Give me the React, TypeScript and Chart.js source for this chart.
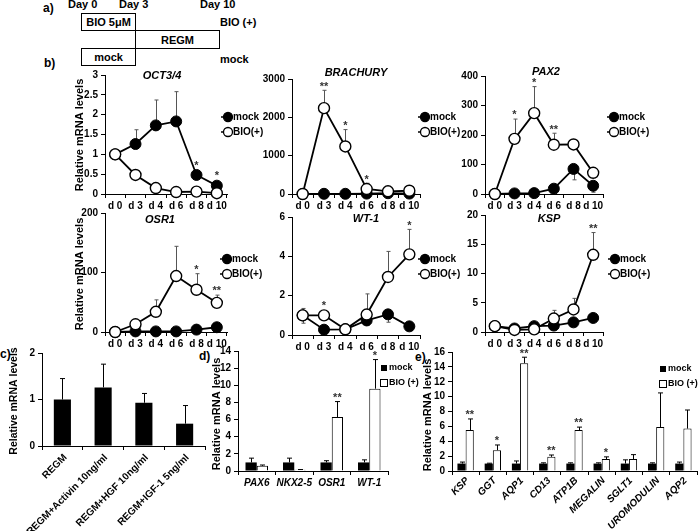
import React, { useEffect, useRef } from 'react';
import { Chart, registerables } from 'chart.js';

Chart.register(...registerables);

const FONT = '"Liberation Sans", Arial, Helvetica, sans-serif';
const PAGE_W = 700;
const PAGE_H = 531;

// ---------------- data ----------------
const days = ['d 0', 'd 3', 'd 4', 'd 6', 'd 8', 'd 10'];

const oct34Mock = [1.0, 1.26, 1.73, 1.83, 0.48, 0.21];
const oct34MockErr = [0, 0.36, 0.64, 0.75, 0.08, 0.06];
const oct34Bio = [1.0, 0.48, 0.15, 0.05, 0.06, 0.02];
const oct34BioErr = [0, 0.03, 0.02, 0.01, 0.01, 0.01];
const oct34MockStars = ['', '', '', '', '*', '*'];

const brachMock = [0, 5, 5, 10, 20, 10];
const brachMockErr = [0, 0, 0, 0, 0, 0];
const brachBio = [0, 2240, 1240, 130, 70, 85];
const brachBioErr = [0, 465, 440, 150, 30, 30];
const brachBioStars = ['', '**', '*', '*', '', ''];

const pax2Mock = [0, 2, 3, 18, 85, 28];
const pax2MockErr = [0, 0, 0, 0, -37, -22];
const pax2Bio = [0, 187, 274, 167, 168, 72];
const pax2BioErr = [0, 67, 90, 39, 14, 5];
const pax2BioStars = ['', '*', '*', '**', '', ''];

const osr1Mock = [0, 1, 1, 1, 4, 8];
const osr1MockErr = [0, 0, 0, 0, 0, 0];
const osr1Bio = [0, 13, 34, 94, 71, 49];
const osr1BioErr = [0, 2, 20, 50, 27, 13];
const osr1BioStars = ['', '', '', '', '*', '**'];

const wt1Mock = [1.0, 0.27, 0.29, 0.74, 1.05, 0.44];
const wt1MockErr = [-0.4, 0, 0, -0.25, -0.4, 0];
const wt1Bio = [1.0, 1.0, 0.29, 1.04, 2.95, 4.1];
const wt1BioErr = [0.35, 0.22, 0, 1.05, 1.3, 1.27];
const wt1BioStars = ['', '*', '', '', '', '*'];

const kspMock = [1.0, 0.6, 1.0, 1.1, 1.65, 2.4];
const kspMockErr = [0, 0, 0, 0, 0, 0];
const kspBio = [1.0, 0.35, 0.45, 2.3, 3.85, 13.2];
const kspBioErr = [0, 0, 0, 1.4, 1.9, 3.8];
const kspBioStars = ['', '', '', '', '', '**'];

const cCats = ['REGM', 'REGM+Activin 10ng/ml', 'REGM+HGF 10ng/ml', 'REGM+IGF-1 5ng/ml'];
const cVals = [1.0, 1.26, 0.93, 0.48];
const cErr = [0.45, 0.5, 0.2, 0.39];

const dCats = ['PAX6', 'NKX2-5', 'OSR1', 'WT-1'];
const dMock = [1, 1, 1, 1];
const dMockErr = [0.5, 0.5, 0.2, 0.3];
const dBio = [0.6, 0.15, 6.3, 9.6];
const dBioErr = [0.1, 0.02, 1.8, 3.4];
const dStars = ['', '', '**', '*'];

const eCats = ['KSP', 'GGT', 'AQP1', 'CD13', 'ATP1B', 'MEGALIN', 'SGLT1', 'UROMODULIN', 'AQP2'];
const eMock = [1, 1, 1, 1, 1, 1, 1, 1, 1];
const eMockErr = [0.2, 0.05, 0.35, 0.1, 0.1, 0.1, 0.5, 0.1, 0.2];
const eBio = [5.5, 2.8, 14.5, 1.9, 5.5, 1.6, 1.6, 5.9, 5.7];
const eBioErr = [1.5, 0.7, 0.8, 0.25, 0.4, 0.3, 0.6, 4.6, 2.5];
const eStars = ['**', '*', '**', '**', '**', '*', '', '', ''];

// ---------------- helpers ----------------
type Box = { l: number; t: number; r: number; b: number };

type Decor = {
  kind: 'line' | 'bar';
  title?: string;
  titleX?: number;
  titleY?: number;
  yTitle?: { x: number; y: number; size: number };
  legend: { x: number; y: number };
  rotLabels?: { italic: boolean; dx: number; dy: number };
};

const POINT_R = 5.5;

function drawErrorBars(chart: any, color: string, cap: number) {
  const ys = chart.scales.y;
  const ctx = chart.ctx;
  chart.data.datasets.forEach((ds: any, i: number) => {
    const errs: number[] | undefined = ds.errs;
    if (!errs) return;
    const meta = chart.getDatasetMeta(i);
    meta.data.forEach((el: any, j: number) => {
      const e = errs[j];
      if (!e) return;
      const v = ds.data[j];
      const y0 = ys.getPixelForValue(v);
      const y1 = ys.getPixelForValue(v + e);
      const x = Math.round(el.x) + 0.5;
      ctx.save();
      ctx.strokeStyle = color;
      ctx.lineWidth = 1;
      ctx.beginPath();
      ctx.moveTo(x, y0);
      ctx.lineTo(x, y1);
      ctx.moveTo(x - cap, y1);
      ctx.lineTo(x + cap, y1);
      ctx.stroke();
      ctx.restore();
    });
  });
}

function drawStars(chart: any, pointR: number) {
  const ys = chart.scales.y;
  const ctx = chart.ctx;
  chart.data.datasets.forEach((ds: any, i: number) => {
    const stars: string[] | undefined = ds.stars;
    if (!stars) return;
    const meta = chart.getDatasetMeta(i);
    meta.data.forEach((el: any, j: number) => {
      const s = stars[j];
      if (!s) return;
      const v = ds.data[j];
      const e = ds.errs ? ds.errs[j] : 0;
      let top = ys.getPixelForValue(v) - pointR;
      if (e > 0) top = Math.min(top, ys.getPixelForValue(v + e));
      const cy = top - 7;
      ctx.save();
      ctx.font = `bold 11px ${FONT}`;
      ctx.textAlign = 'center';
      ctx.textBaseline = 'alphabetic';
      ctx.fillStyle = '#333';
      ctx.fillText(s, el.x, cy + 6.3);
      ctx.restore();
    });
  });
}

function drawLegend(ctx: CanvasRenderingContext2D, kind: 'line' | 'bar', x: number, y: number, labels: string[]) {
  ctx.save();
  ctx.font = kind === 'line' ? `bold 10px ${FONT}` : `bold 9px ${FONT}`;
  ctx.textAlign = 'left';
  ctx.textBaseline = 'middle';
  labels.forEach((lab, k) => {
    const yy = y + k * 15;
    const filled = k === 0;
    if (kind === 'line') {
      ctx.strokeStyle = '#000';
      ctx.lineWidth = 1.5;
      ctx.beginPath();
      ctx.moveTo(x - 7, yy);
      ctx.lineTo(x, yy);
      ctx.stroke();
      ctx.beginPath();
      ctx.arc(x, yy, 4.5, 0, Math.PI * 2);
      ctx.fillStyle = filled ? '#000' : '#fff';
      ctx.fill();
      ctx.lineWidth = 1.3;
      ctx.stroke();
      ctx.fillStyle = '#000';
      ctx.fillText(lab, x + 5, yy);
    } else {
      ctx.strokeStyle = '#000';
      ctx.lineWidth = 1;
      if (filled) {
        ctx.fillStyle = '#000';
        ctx.fillRect(x - 3, yy - 3, 6, 6);
      } else {
        ctx.strokeRect(x - 3.5, yy - 3.5, 7, 7);
      }
      ctx.fillStyle = '#000';
      ctx.fillText(lab, x + 5, yy);
    }
  });
  ctx.restore();
}

function decorPlugin(d: Decor, legendLabels: string[]) {
  return {
    id: 'decor',
    beforeDatasetsDraw(chart: any) {
      if (d.kind === 'line') drawErrorBars(chart, '#555', 2);
    },
    afterDatasetsDraw(chart: any) {
      if (d.kind === 'bar') drawErrorBars(chart, '#000', 2.5);
      drawStars(chart, d.kind === 'line' ? POINT_R : 0);
      const ctx: CanvasRenderingContext2D = chart.ctx;
      ctx.save();
      ctx.fillStyle = '#000';
      if (d.title) {
        ctx.font = `italic bold 11px ${FONT}`;
        ctx.textAlign = 'center';
        ctx.textBaseline = 'middle';
        ctx.fillText(d.title, d.titleX!, d.titleY!);
      }
      if (d.yTitle) {
        ctx.save();
        ctx.translate(d.yTitle.x, d.yTitle.y);
        ctx.rotate(-Math.PI / 2);
        ctx.font = `bold ${d.yTitle.size}px ${FONT}`;
        ctx.textAlign = 'center';
        ctx.textBaseline = 'middle';
        ctx.fillText('Relative mRNA levels', 0, 0);
        ctx.restore();
      }
      if (d.rotLabels) {
        const xs = chart.scales.x;
        const labels: string[] = chart.data.labels;
        ctx.font = `${d.rotLabels.italic ? 'italic ' : ''}bold 10px ${FONT}`;
        ctx.textAlign = 'right';
        ctx.textBaseline = 'middle';
        labels.forEach((lab, i) => {
          const px = xs.getPixelForValue(i);
          ctx.save();
          ctx.translate(px + d.rotLabels!.dx, xs.top + d.rotLabels!.dy);
          ctx.rotate(-Math.PI / 4);
          ctx.fillText(lab, 0, 0);
          ctx.restore();
        });
      }
      ctx.restore();
      drawLegend(ctx, d.kind, d.legend.x, d.legend.y, legendLabels);
    },
  };
}

function axisCommon(fontStyle: 'normal' | 'italic') {
  return {
    grid: { drawOnChartArea: false, drawTicks: true, tickLength: 4, color: '#000', lineWidth: 1, offset: true },
    border: { color: '#000', width: 1 },
    ticks: {
      color: '#000',
      font: { family: FONT, size: 10, weight: 'bold' as const, style: fontStyle },
      autoSkip: false,
    },
  };
}

type LinePanel = {
  box: Box;
  max: number;
  step: number;
  mock: number[];
  mockErr: number[];
  bio: number[];
  bioErr: number[];
  mockStars?: string[];
  bioStars?: string[];
  decor: Decor;
};

function lineConfig(p: LinePanel): any {
  const YW = 30;
  const XH = 30;
  const xc = axisCommon('normal');
  return {
    type: 'line',
    data: {
      labels: days,
      datasets: [
        {
          label: 'BIO(+)',
          data: p.bio,
          errs: p.bioErr,
          stars: p.bioStars,
          order: 1,
          borderColor: '#000',
          borderWidth: 1.8,
          pointRadius: POINT_R,
          pointBackgroundColor: '#fff',
          pointBorderColor: '#000',
          pointBorderWidth: 1.4,
          tension: 0,
          clip: false,
        },
        {
          label: 'mock',
          data: p.mock,
          errs: p.mockErr,
          stars: p.mockStars,
          order: 2,
          borderColor: '#000',
          borderWidth: 1.8,
          pointRadius: POINT_R,
          pointBackgroundColor: '#000',
          pointBorderColor: '#000',
          pointBorderWidth: 1,
          tension: 0,
          clip: false,
        },
      ],
    },
    options: {
      responsive: false,
      animation: false,
      devicePixelRatio: 1,
      events: [],
      layout: { padding: { left: p.box.l - YW, top: p.box.t, right: PAGE_W - p.box.r, bottom: PAGE_H - p.box.b - XH } },
      plugins: { legend: { display: false }, tooltip: { enabled: false }, title: { display: false } },
      scales: {
        x: {
          type: 'category',
          offset: true,
          grid: xc.grid,
          border: xc.border,
          ticks: { ...xc.ticks, padding: 2, maxRotation: 0, minRotation: 0 },
          afterFit: (s: any) => { s.height = XH; },
        },
        y: {
          min: 0,
          max: p.max,
          grid: { ...xc.grid, offset: false },
          border: xc.border,
          ticks: { ...xc.ticks, stepSize: p.step, padding: 3, callback: (v: any) => String(v) },
          afterFit: (s: any) => { s.width = YW; },
        },
      },
    },
    plugins: [decorPlugin(p.decor, ['mock', 'BIO(+)'])],
  };
}

type BarPanel = {
  box: Box;
  xh: number;
  max: number;
  step: number;
  labels: string[];
  rotate: boolean;
  italic: boolean;
  datasets: any[];
  decor: Decor;
  legendLabels: string[];
};

function barConfig(p: BarPanel): any {
  const YW = 30;
  const xc = axisCommon(p.italic ? 'italic' : 'normal');
  return {
    type: 'bar',
    data: { labels: p.labels, datasets: p.datasets },
    options: {
      responsive: false,
      animation: false,
      devicePixelRatio: 1,
      events: [],
      layout: { padding: { left: p.box.l - YW, top: p.box.t, right: PAGE_W - p.box.r, bottom: PAGE_H - p.box.b - p.xh } },
      plugins: { legend: { display: false }, tooltip: { enabled: false }, title: { display: false } },
      scales: {
        x: {
          type: 'category',
          offset: true,
          grid: xc.grid,
          border: xc.border,
          ticks: {
            ...xc.ticks,
            color: p.rotate ? 'rgba(0,0,0,0)' : '#000',
            padding: 2,
            maxRotation: 0,
            minRotation: 0,
          },
          afterFit: (s: any) => { s.height = p.xh; },
        },
        y: {
          min: 0,
          max: p.max,
          grid: { ...xc.grid, offset: false },
          border: xc.border,
          ticks: { ...axisCommon('normal').ticks, stepSize: p.step, padding: 3, callback: (v: any) => String(v) },
          afterFit: (s: any) => { s.width = YW; },
        },
      },
    },
    plugins: [decorPlugin(p.decor, p.legendLabels)],
  };
}

// ---------------- chart configs ----------------
const makers: (() => any)[] = [
  () => lineConfig({
    box: { l: 105, t: 75, r: 227, b: 194 }, max: 3, step: 0.5,
    mock: oct34Mock, mockErr: oct34MockErr, bio: oct34Bio, bioErr: oct34BioErr, mockStars: oct34MockStars,
    decor: { kind: 'line', title: 'OCT3/4', titleX: 162, titleY: 76, yTitle: { x: 80, y: 135, size: 11 }, legend: { x: 228, y: 117 } },
  }),
  () => lineConfig({
    box: { l: 292, t: 79, r: 420, b: 194 }, max: 3000, step: 1000,
    mock: brachMock, mockErr: brachMockErr, bio: brachBio, bioErr: brachBioErr, bioStars: brachBioStars,
    decor: { kind: 'line', title: 'BRACHURY', titleX: 356, titleY: 73, legend: { x: 425, y: 117 } },
  }),
  () => lineConfig({
    box: { l: 485, t: 76, r: 603, b: 194 }, max: 400, step: 100,
    mock: pax2Mock, mockErr: pax2MockErr, bio: pax2Bio, bioErr: pax2BioErr, bioStars: pax2BioStars,
    decor: { kind: 'line', title: 'PAX2', titleX: 546, titleY: 72, legend: { x: 614, y: 117 } },
  }),
  () => lineConfig({
    box: { l: 105, t: 213, r: 227, b: 332 }, max: 200, step: 100,
    mock: osr1Mock, mockErr: osr1MockErr, bio: osr1Bio, bioErr: osr1BioErr, bioStars: osr1BioStars,
    decor: { kind: 'line', title: 'OSR1', titleX: 160, titleY: 220, yTitle: { x: 80, y: 274, size: 11 }, legend: { x: 227, y: 259 } },
  }),
  () => lineConfig({
    box: { l: 292, t: 217, r: 420, b: 335 }, max: 6, step: 2,
    mock: wt1Mock, mockErr: wt1MockErr, bio: wt1Bio, bioErr: wt1BioErr, bioStars: wt1BioStars,
    decor: { kind: 'line', title: 'WT-1', titleX: 366, titleY: 219, legend: { x: 425, y: 259 } },
  }),
  () => lineConfig({
    box: { l: 485, t: 215, r: 603, b: 332 }, max: 20, step: 5,
    mock: kspMock, mockErr: kspMockErr, bio: kspBio, bioErr: kspBioErr, bioStars: kspBioStars,
    decor: { kind: 'line', title: 'KSP', titleX: 549, titleY: 219, legend: { x: 615, y: 259 } },
  }),
  () => barConfig({
    box: { l: 42, t: 353, r: 205, b: 446 }, xh: 70, max: 2, step: 1,
    labels: cCats, rotate: true, italic: false,
    datasets: [{ data: cVals, errs: cErr, backgroundColor: '#000', borderWidth: 0, barPercentage: 0.42, categoryPercentage: 1 }],
    decor: { kind: 'bar', yTitle: { x: 14, y: 401, size: 10.5 }, legend: { x: -100, y: -100 }, rotLabels: { italic: false, dx: 3, dy: 10 } },
    legendLabels: [],
  }),
  () => barConfig({
    box: { l: 238, t: 351, r: 388, b: 471 }, xh: 30, max: 14, step: 2,
    labels: dCats, rotate: false, italic: true,
    datasets: [
      { label: 'mock', data: dMock, errs: dMockErr, backgroundColor: '#000', borderWidth: 0, barPercentage: 1, categoryPercentage: 0.6 },
      { label: 'BIO (+)', data: dBio, errs: dBioErr, stars: dStars, backgroundColor: '#fff', borderColor: '#000', borderWidth: 1, barPercentage: 1, categoryPercentage: 0.6 },
    ],
    decor: { kind: 'bar', yTitle: { x: 217, y: 414, size: 11 }, legend: { x: 384, y: 368 } },
    legendLabels: ['mock', 'BIO (+)'],
  }),
  () => barConfig({
    box: { l: 452, t: 352, r: 697, b: 471 }, xh: 58, max: 16, step: 2,
    labels: eCats, rotate: true, italic: true,
    datasets: [
      { label: 'mock', data: eMock, errs: eMockErr, backgroundColor: '#000', borderWidth: 0, barPercentage: 1, categoryPercentage: 0.6 },
      { label: 'BIO (+)', data: eBio, errs: eBioErr, stars: eStars, backgroundColor: '#fff', borderColor: '#000', borderWidth: 1, barPercentage: 1, categoryPercentage: 0.6 },
    ],
    decor: { kind: 'bar', yTitle: { x: 428, y: 415, size: 11 }, legend: { x: 663, y: 369 }, rotLabels: { italic: true, dx: 2, dy: 8 } },
    legendLabels: ['mock', 'BIO (+)'],
  }),
];

function ChartCanvas({ make }: { make: () => any }) {
  const ref = useRef<HTMLCanvasElement>(null);
  useEffect(() => {
    const chart = new Chart(ref.current as HTMLCanvasElement, make());
    return () => chart.destroy();
  }, []);
  return (
    <canvas
      ref={ref}
      width={PAGE_W}
      height={PAGE_H}
      style={{ position: 'absolute', left: 0, top: 0, width: PAGE_W, height: PAGE_H }}
    />
  );
}

function Txt({ x, cy, size = 11, children }: { x: number; cy: number; size?: number; children: React.ReactNode }) {
  return (
    <div
      style={{
        position: 'absolute',
        left: x,
        top: cy - 7,
        height: 14,
        lineHeight: '14px',
        font: `bold ${size}px ${FONT}`,
        whiteSpace: 'nowrap',
        color: '#000',
      }}
    >
      {children}
    </div>
  );
}

function BoxDiv({ l, t, w, h, children }: { l: number; t: number; w: number; h: number; children: React.ReactNode }) {
  return (
    <div
      style={{
        position: 'absolute',
        left: l,
        top: t,
        width: w,
        height: h,
        boxSizing: 'border-box',
        border: '1px solid #000',
        font: `bold 11px ${FONT}`,
        display: 'flex',
        alignItems: 'center',
        justifyContent: 'center',
        color: '#000',
      }}
    >
      {children}
    </div>
  );
}

export default function App() {
  return (
    <div style={{ position: 'absolute', left: 0, top: 0, width: PAGE_W, height: PAGE_H, background: '#fff', overflow: 'hidden' }}>
      {/* panel a */}
      <Txt x={43} cy={8} size={12}>a)</Txt>
      <Txt x={68} cy={5}>Day 0</Txt>
      <Txt x={119} cy={5}>Day 3</Txt>
      <Txt x={200} cy={5}>Day 10</Txt>
      <BoxDiv l={81} t={13} w={55} h={18}>BIO 5μM</BoxDiv>
      <BoxDiv l={135} t={30} w={85} h={19}>REGM</BoxDiv>
      <BoxDiv l={81} t={48} w={55} h={18}>mock</BoxDiv>
      <Txt x={220} cy={23}>BIO (+)</Txt>
      <Txt x={220} cy={60}>mock</Txt>
      <Txt x={44} cy={63} size={12}>b)</Txt>
      <Txt x={0} cy={354} size={12}>c)</Txt>
      <Txt x={199} cy={356} size={12}>d)</Txt>
      <Txt x={415} cy={357} size={12}>e)</Txt>
      {makers.map((m, i) => (
        <ChartCanvas key={i} make={m} />
      ))}
    </div>
  );
}
